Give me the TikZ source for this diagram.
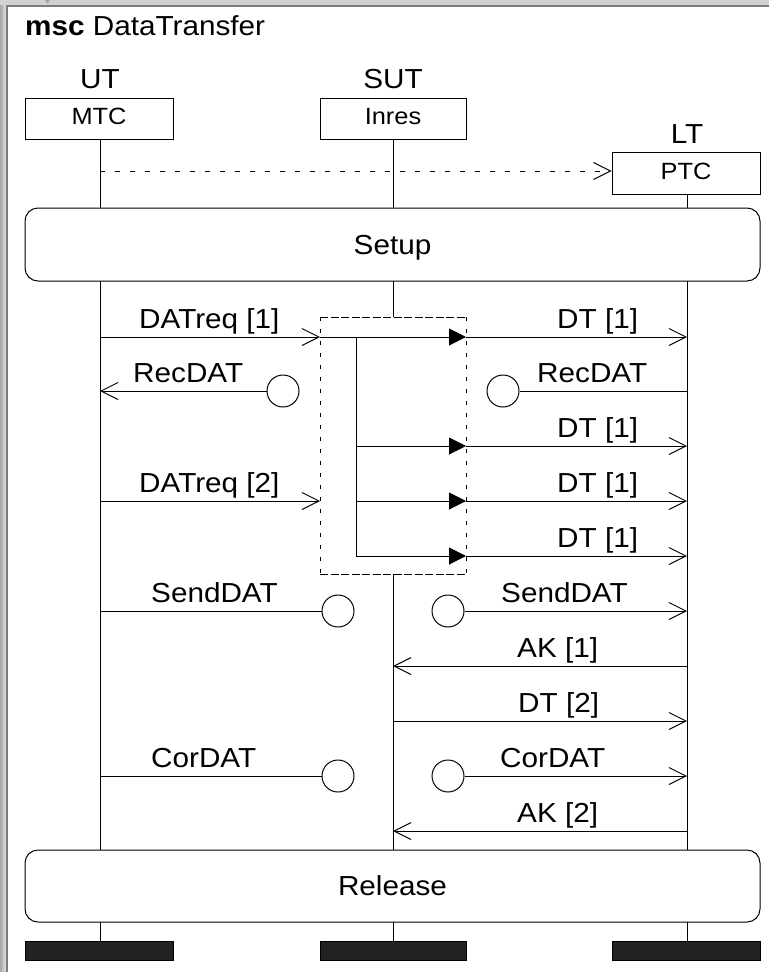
\documentclass[tikz,border=0pt]{standalone}
\usepackage{fontspec}
\setmainfont{Liberation Sans}[FakeStretch=1.08]
\usetikzlibrary{arrows.meta}

\definecolor{winlight}{HTML}{D2D2D2}
\definecolor{windark}{HTML}{7C7C7C}
\definecolor{barfill}{HTML}{222222}

\tikzset{
  ln/.style={line width=1pt, draw=black},
  headbox/.style={draw, line width=1pt, inner sep=0pt, minimum width=148pt, minimum height=41pt},
  headtxt/.style={anchor=base, inner sep=0pt, font=\fontsize{23.5}{25}\selectfont},
  insttxt/.style={anchor=base, inner sep=0pt, font=\fontsize{27.5}{29}\selectfont},
  refbox/.style={draw, line width=1pt, rounded corners=13pt, inner sep=0pt, minimum width=735pt, minimum height=73pt},
  reftxt/.style={anchor=base, inner sep=0pt, font=\fontsize{27.5}{29}\selectfont},
  endbar/.style={draw=black, fill=barfill, line width=0.8pt, inner sep=0pt, minimum width=148pt, minimum height=19pt},
  msglbl/.style={anchor=base west, inner sep=0pt, font=\fontsize{27.5}{29}\selectfont},
  msg/.style={ln, -{Straight Barb[length=17pt,width=17pt,line width=1pt]}},
  inmsg/.style={ln, -{Triangle[length=17pt,width=17pt]}},
  lost/.style={draw, line width=1pt, circle, minimum size=32pt, inner sep=0pt, fill=white},
  corh/.style={line width=1pt, dash pattern=on 8pt off 2.5pt},
  corv/.style={line width=1pt, dash pattern=on 4pt off 8pt},
}

\begin{document}
\begin{tikzpicture}[x=1pt,y=-1pt]
\useasboundingbox (0,0) rectangle (769,972);

% window frame
\fill[white] (0,0) rectangle (769,972);
\shade[left color=winlight!80!black, right color=winlight!60] (0,0) rectangle (6,972);
\fill[winlight] (0,0) rectangle (769,5);
\fill[windark] (6,5) rectangle (8,972);
\fill[windark] (6,5) rectangle (769,7);
\fill[gray!70] (45,0) -- (50,0) -- (47.5,3.5) -- cycle;

% title
\node[anchor=base west, inner sep=0pt, font=\fontsize{27.5}{29}\selectfont] (title) at (25,35) {\textbf{msc} DataTransfer};

% instance heads
\node[insttxt] (utname) at (100,88) {UT};
\node[insttxt] (sutname) at (393,88) {SUT};
\node[insttxt] (ltname) at (687,143) {LT};
\node[headbox] (ut) at (99,118.5) {};
\node[headbox, minimum width=146pt] (sut) at (393,118.5) {};
\node[headbox, minimum height=42pt] (lt) at (686,173) {};
\node[headtxt] (uttype) at (99,124.5) {MTC};
\node[headtxt] (suttype) at (393,124.5) {Inres};
\node[headtxt] (lttype) at (686,179) {PTC};

% references
\node[refbox] (setup) at (392.5,244.5) {};
\node[reftxt] (setuptxt) at (392.5,254) {Setup};
\node[refbox, minimum height=72pt] (release) at (392.5,886) {};
\node[reftxt] (releasetxt) at (392.5,895) {Release};

% end bars
\node[endbar] (utend) at (99,951) {};
\node[endbar, minimum width=146pt] (sutend) at (393,951) {};
\node[endbar] (ltend) at (686.5,951) {};

% lifeline points
\coordinate (utA) at (100,139);  \coordinate (utB) at (100,208);
\coordinate (utC) at (100,281);  \coordinate (utD) at (100,850);
\coordinate (utE) at (100,922);  \coordinate (utF) at (100,941.5);
\coordinate (sutA) at (393,139); \coordinate (sutB) at (393,208);
\coordinate (sutC) at (393,281); \coordinate (sutD) at (393,317);
\coordinate (sutE) at (393,574); \coordinate (sutF) at (393,850);
\coordinate (sutG) at (393,922); \coordinate (sutH) at (393,941.5);
\coordinate (ltA) at (687,194);  \coordinate (ltB) at (687,208);
\coordinate (ltC) at (687,281);  \coordinate (ltD) at (687,850);
\coordinate (ltE) at (687,922);  \coordinate (ltF) at (687,941.5);

\draw[ln] (utA) -- (utB) (utC) -- (utD) (utE) -- (utF);
\draw[ln] (sutA) -- (sutB) (sutC) -- (sutD) (sutE) -- (sutF) (sutG) -- (sutH);
\draw[ln] (ltA) -- (ltB) (ltC) -- (ltD) (ltE) -- (ltF);

% instance creation
\coordinate (cr0) at (100,171);
\draw[ln, dash pattern=on 5pt off 10pt, -{Straight Barb[length=17pt,width=17pt,line width=1pt]}] (cr0) -- (lt.west |- cr0);

% inline region of SUT
\coordinate (cTL) at (320,317); \coordinate (cTR) at (466,317);
\coordinate (cBL) at (320,574); \coordinate (cBR) at (466,574);
\draw[corh] (cTL) -- (cTR);
\draw[corh] (cBL) -- (cBR);
\draw[corv] (cTL) -- (cBL);
\draw[corv] (cTR) -- (cBR);

% message rows
\coordinate (u1) at (100,337); \coordinate (c1) at (320,337); \coordinate (r1) at (466,337); \coordinate (l1) at (687,337);
\coordinate (u2) at (100,391); \coordinate (l2) at (687,391);
\coordinate (i3) at (356,446); \coordinate (r3) at (466,446); \coordinate (l3) at (687,446);
\coordinate (u4) at (100,501); \coordinate (c4) at (320,501); \coordinate (i4) at (356,501); \coordinate (r4) at (466,501); \coordinate (l4) at (687,501);
\coordinate (i1) at (356,337);
\coordinate (i5) at (356,556); \coordinate (r5) at (466,556); \coordinate (l5) at (687,556);
\coordinate (u6) at (100,611); \coordinate (l6) at (687,611);
\coordinate (s7) at (393,666); \coordinate (l7) at (687,666);
\coordinate (s8) at (393,721); \coordinate (l8) at (687,721);
\coordinate (u9) at (100,776); \coordinate (l9) at (687,776);
\coordinate (s10) at (393,831); \coordinate (l10) at (687,831);

% lost / found message circles
\node[lost] (recL) at (283,391) {};
\node[lost] (recR) at (503,391) {};
\node[lost] (sendL) at (338,611) {};
\node[lost] (sendR) at (448,611) {};
\node[lost] (corL) at (338,776) {};
\node[lost] (corR) at (448,776) {};

% inner branching inside the inline region
\draw[ln] (i1) -- (i5);
\draw[inmsg] (c1) -- (r1);
\draw[inmsg] (i3) -- (r3);
\draw[inmsg] (i4) -- (r4);
\draw[inmsg] (i5) -- (r5);

% messages
\draw[msg] (u1) -- (c1);
\draw[msg] (r1) -- (l1);
\draw[msg] (recL) -- (u2);
\draw[ln] (l2) -- (recR);
\draw[msg] (r3) -- (l3);
\draw[msg] (u4) -- (c4);
\draw[msg] (r4) -- (l4);
\draw[msg] (r5) -- (l5);
\draw[ln] (u6) -- (sendL);
\draw[msg] (sendR) -- (l6);
\draw[msg] (l7) -- (s7);
\draw[msg] (s8) -- (l8);
\draw[ln] (u9) -- (corL);
\draw[msg] (corR) -- (l9);
\draw[msg] (l10) -- (s10);

% message labels
\node[msglbl] (t1) at (139,328) {DATreq [1]};
\node[msglbl] (t2) at (557,328.5) {DT [1]};
\node[msglbl] (t3) at (133,382.5) {RecDAT};
\node[msglbl] (t4) at (537,382.5) {RecDAT};
\node[msglbl] (t5) at (557,437.5) {DT [1]};
\node[msglbl] (t6) at (139,492.5) {DATreq [2]};
\node[msglbl] (t7) at (557,492.5) {DT [1]};
\node[msglbl] (t8) at (557,547.5) {DT [1]};
\node[msglbl] (t9) at (151,602.5) {SendDAT};
\node[msglbl] (t10) at (501,602.5) {SendDAT};
\node[msglbl] (t11) at (517,657.5) {AK [1]};
\node[msglbl] (t12) at (518,712.5) {DT [2]};
\node[msglbl] (t13) at (151,767.5) {CorDAT};
\node[msglbl] (t14) at (500,767.5) {CorDAT};
\node[msglbl] (t15) at (517,822.5) {AK [2]};
\end{tikzpicture}
\end{document}
